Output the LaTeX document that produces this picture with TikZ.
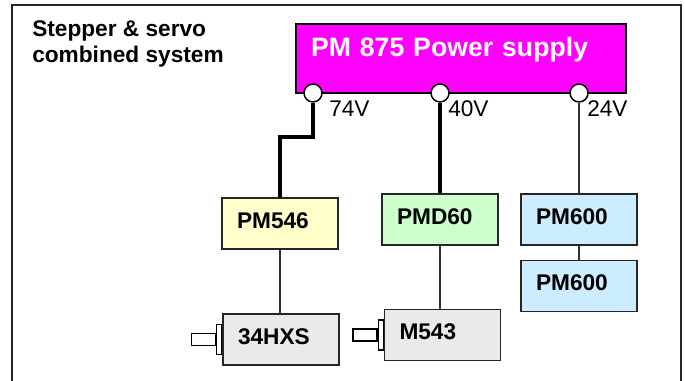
\documentclass[tikz,border=0pt]{standalone}
\usepackage{fontspec}
\setmainfont{Liberation Sans}
\usetikzlibrary{positioning}
\definecolor{psumag}{RGB}{255,0,255}
\definecolor{drvyel}{RGB}{255,255,204}
\definecolor{drvgrn}{RGB}{204,255,204}
\definecolor{drvblu}{RGB}{204,236,255}
\definecolor{motgry}{RGB}{234,234,234}
\tikzset{
  frm/.style={line width=1.5pt, draw=black!85},
  psu/.style={rectangle, draw, line width=1.1pt, fill=psumag, text=white, align=left,
    font=\bfseries\fontsize{20}{24}\selectfont, text width=225pt, inner xsep=11.25pt,
    minimum height=51.75pt, text depth=17pt},
  port/.style={circle, draw, line width=1.1pt, fill=white, inner sep=0pt, minimum size=13.5pt},
  box/.style={rectangle, draw=black!85, line width=1.1pt, align=left,
    font=\bfseries\fontsize{17}{20}\selectfont, text width=64.5pt, inner xsep=11.25pt,
    minimum height=38.25pt, text depth=5pt},
  motor/.style={box, fill=motgry},
  shaft/.style={rectangle, draw, line width=0.9pt, fill=white, inner sep=0pt},
  bus/.style={line width=3pt},
  sig/.style={line width=0.8pt, draw=black!80},
  lbl/.style={font=\fontsize{17}{20}\selectfont, inner sep=0pt}
}
\begin{document}
\begin{tikzpicture}[x=0.75pt, y=-0.75pt]
\useasboundingbox (0,0) rectangle (685,381);

% outer frame, open at the bottom
\draw[frm] (11.5,395) -- (11.5,5) -- (680.5,5) -- (680.5,395);

\node (title) [anchor=north west, align=left, inner sep=0pt,
  font=\bfseries\fontsize{17}{19.5}\selectfont] at (32,20.5) {Stepper \& servo\\combined system};

% power supply and its outputs
\node (psu) [psu] at (461,58.5) {PM 875 Power supply};
\node (p74) [port] at (313,93) {};
\node (p40) [port] at (440,93) {};
\node (p24) [port] at (579,93) {};
\node (v74) [lbl, anchor=base west] at (329,117) {74V};
\node (v40) [lbl, anchor=base west] at (448,117) {40V};
\node (v24) [lbl, anchor=base west] at (587,117) {24V};

% drivers
\node (pm546) [box, fill=drvyel] at (280,223.5) {PM546};
\node (pmd60) [box, fill=drvgrn] at (440,219.5) {PMD60};
\node (pm600a) [box, fill=drvblu] at (579,219.5) {PM600};
\node (pm600b) [box, fill=drvblu, below=10.5pt of pm600a] {PM600};

% motors
\node (hxs) [motor] at (281,339.5) {34HXS};
\node (hxsfl) [shaft, anchor=east, minimum width=3.75pt, minimum height=22.5pt] at (hxs.west) {};
\node (hxssh) [shaft, anchor=east, minimum width=18pt, minimum height=9pt] at (hxsfl.west) {};
\node (m543) [motor] at (442.5,335) {M543};
\node (m543fl) [shaft, anchor=east, minimum width=3.75pt, minimum height=22.5pt] at (m543.west) {};
\node (m543sh) [shaft, anchor=east, minimum width=18pt, minimum height=9pt] at (m543fl.west) {};

% wiring
\draw[bus] (p74.south) -- ++(0,34) -| (pm546.north);
\draw[bus] (p40.south) -- (pmd60.north);
\draw[sig] (p24.south) -- (pm600a.north);
\draw[sig] (pm600a) -- (pm600b);
\draw[sig] (pm546.south) -- (pm546.south |- hxs.north);
\draw[sig] (pmd60.south) -- (pmd60.south |- m543.north);

\end{tikzpicture}
\end{document}
